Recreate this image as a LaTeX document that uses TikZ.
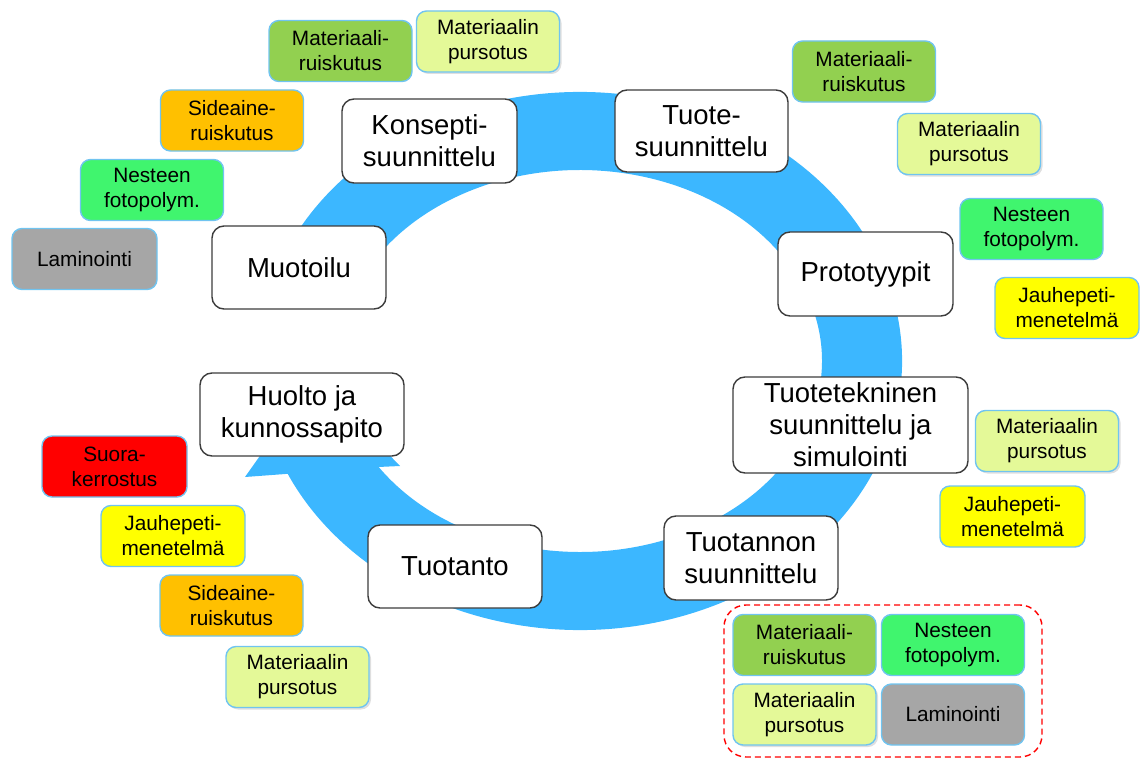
\documentclass[tikz,border=0pt]{standalone}
\usepackage{fontspec}
\setmainfont{Liberation Sans}
\usetikzlibrary{shadows}
\definecolor{ringblue}{RGB}{60,183,255}
\definecolor{boxborder}{RGB}{112,196,240}
\definecolor{cLime}{RGB}{146,208,80}
\definecolor{cPale}{RGB}{228,249,152}
\definecolor{cOrange}{RGB}{255,192,0}
\definecolor{cGreen}{RGB}{64,245,110}
\definecolor{cGray}{RGB}{166,166,166}
\definecolor{cYellow}{RGB}{255,255,0}
\definecolor{cRed}{RGB}{255,0,0}
\definecolor{mainborder}{RGB}{60,60,60}
\begin{document}
\begin{tikzpicture}[x=1pt,y=-1pt,
  mainbox/.style={draw=mainborder, line width=1.4pt, fill=white, rounded corners=12pt,
    align=center, inner sep=0pt, font=\fontsize{27.5}{32}\selectfont},
  tbox/.style={draw=boxborder, line width=1.4pt, rounded corners=10pt, align=center,
    inner sep=0pt, minimum width=143pt, minimum height=61pt,
    font=\fontsize{20.8}{25}\selectfont},
  shad/.style={drop shadow={opacity=0.25, shadow xshift=2pt, shadow yshift=-2pt}},
  lime/.style={tbox, fill=cLime},
  pale/.style={tbox, fill=cPale, shad},
  orng/.style={tbox, fill=cOrange},
  grn/.style={tbox, fill=cGreen},
  gry/.style={tbox, fill=cGray},
  yel/.style={tbox, fill=cYellow},
  rd/.style={tbox, fill=cRed}]
\useasboundingbox (0,0) rectangle (1141,760);

% circular arrow
\begin{scope}[shift={(580,361)}]
\fill[ringblue] (195:322 and 269) arc[start angle=195, end angle=515.2, x radius=322, y radius=269]
  -- (-335,116) -- (-265,17) -- (-180,105)
  -- (506.3:242 and 191) arc[start angle=506.3, end angle=200, x radius=242, y radius=191] -- cycle;
\end{scope}

% main boxes
\node[mainbox, minimum width=175pt, minimum height=84pt] (konsepti) at (429.5,141) {Konsepti-\\suunnittelu};
\node[mainbox, minimum width=173pt, minimum height=82pt] (tuote) at (701.5,131) {Tuote-\\suunnittelu};
\node[mainbox, minimum width=175pt, minimum height=84pt] (proto) at (865.5,274) {Prototyypit};
\node[mainbox, minimum width=235pt, minimum height=96pt] (tekn) at (850.5,425) {Tuotetekninen\\suunnittelu ja\\simulointi};
\node[mainbox, minimum width=174pt, minimum height=84pt] (tuotannon) at (751,558) {Tuotannon\\suunnittelu};
\node[mainbox, minimum width=174pt, minimum height=83pt] (tuotanto) at (455,566.5) {Tuotanto};
\node[mainbox, minimum width=204pt, minimum height=83pt] (huolto) at (302,414.5) {Huolto ja\\kunnossapito};
\node[mainbox, minimum width=174pt, minimum height=83pt] (muotoilu) at (299,267.5) {Muotoilu};

% top-left cluster
\node[lime] (mr1) at (340.5,51) {Materiaali-\\ruiskutus};
\node[pale] (mp1) at (488,41.5) {Materiaalin\\pursotus};
\node[orng] (sr1) at (232,120.5) {Sideaine-\\ruiskutus};
\node[grn] (nf1) at (152,190) {Nesteen\\fotopolym.};
\node[gry, minimum width=145pt] (la1) at (84.5,259) {Laminointi};

% top-right cluster
\node[lime] (mr2) at (864,71.5) {Materiaali-\\ruiskutus};
\node[pale] (mp2) at (969,144) {Materiaalin\\pursotus};
\node[grn] (nf2) at (1031.5,229) {Nesteen\\fotopolym.};
\node[yel, minimum width=144pt] (jm1) at (1067,308) {Jauhepeti-\\menetelmä};

% right-middle cluster
\node[pale] (mp3) at (1047,441) {Materiaalin\\pursotus};
\node[yel, minimum width=145pt] (jm2) at (1012.5,516.5) {Jauhepeti-\\menetelmä};

% bottom-left cluster
\node[rd, minimum width=145pt] (sk) at (114.5,466.5) {Suora-\\kerrostus};
\node[yel, minimum width=144pt] (jm3) at (173,536) {Jauhepeti-\\menetelmä};
\node[orng] (sr2) at (231.5,605.5) {Sideaine-\\ruiskutus};
\node[pale] (mp4) at (297.5,677) {Materiaalin\\pursotus};

% bottom-right group
\node[draw=cRed, line width=1.4pt, dash pattern=on 6pt off 4pt, rounded corners=22pt,
  minimum width=318pt, minimum height=152pt, inner sep=0pt] (grp) at (883,681) {};
\node[lime] (mr3) at (804.5,645) {Materiaali-\\ruiskutus};
\node[grn] (nf3) at (953,645) {Nesteen\\fotopolym.};
\node[pale] (mp5) at (804.5,714.5) {Materiaalin\\pursotus};
\node[gry] (la2) at (953,714.5) {Laminointi};
\end{tikzpicture}
\end{document}
